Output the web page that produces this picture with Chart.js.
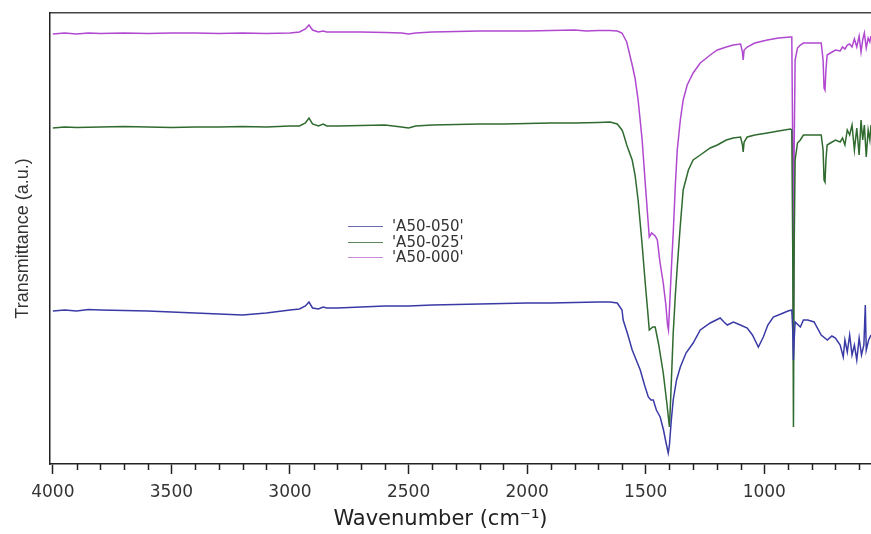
<!DOCTYPE html>
<html>
<head>
<meta charset="utf-8">
<script src="https://cdn.jsdelivr.net/npm/chart.js@4.4.1/dist/chart.umd.min.js"></script>
<style>
  html, body { margin: 0; padding: 0; background: #fff; }
  #wrap { position: relative; width: 871px; height: 534px; }
  #legend { position: absolute; left: 348px; top: 219px; font-family: "DejaVu Sans", sans-serif; font-size: 15px; color: #333; }
  .row { height: 15.5px; line-height: 15.5px; white-space: nowrap; display: flex; align-items: center; }
  .swatch { display: inline-block; width: 35px; height: 0; border-top: 1.5px solid; margin-right: 9px; }
</style>
</head>
<body>
<div id="wrap">
  <canvas id="c" width="871" height="534"></canvas>
  <div id="legend"></div>
</div>
<script>
// ---- Data (transmittance in arbitrary units) ----
const seriesNames = ["'A50-050'", "'A50-025'", "'A50-000'"];
const seriesColors = ['#3a3aa6', '#2f6a2f', '#b048d0'];
const legendColors = ['#6a6ab0', '#5a865a', '#c98ad8'];
const majorTicks = [4000, 3500, 3000, 2500, 2000, 1500, 1000];

const wn050 = [4000,3950,3900,3850,3800,3700,3600,3500,3400,3300,3200,3100,3000,2960,2935,2920,2905,2880,2860,2845,2800,2700,2600,2500,2400,2300,2200,2100,2000,1900,1800,1700,1650,1620,1600,1595,1575,1557,1540,1523,1505,1489,1478,1468,1455,1439,1425,1415,1405,1400,1392,1384,1370,1354,1330,1300,1270,1228,1186,1170,1156,1130,1101,1072,1050,1025,1004,985,962,930,900,884,880,877,874,870,848,835,817,790,760,734,715,700,680,667,660,650,640,630,620,610,600,590,580,574,570,560,550];
const t050  = [153,154,153,154.5,154,153.5,153,152,151,150,149,151,154,155,158,162,156,155,157,156,156,157,158,158,159,159.5,160,160.5,161,161,161.5,162,162,161,154,144,129,114,104,94,79,67,64,64,54,47,34,22,11,19,44,64,84,97,111,121,134,141,146,142,139,142,139,136,129,117,127,139,147,150,153,154,134,104,124,142,137,144,144,142,129,124,128,126,119,107,124,112,129,109,119,104,126,109,119,159,114,124,129];

const wn025 = [4000,3950,3900,3800,3700,3600,3500,3400,3300,3200,3100,3000,2960,2935,2920,2905,2880,2860,2845,2800,2700,2600,2530,2500,2470,2400,2300,2200,2100,2000,1900,1800,1700,1650,1620,1600,1595,1580,1557,1545,1532,1515,1502,1492,1485,1470,1460,1445,1426,1410,1400,1395,1384,1375,1367,1354,1342,1320,1300,1270,1228,1198,1160,1131,1100,1092,1089,1085,1072,1040,987,940,890,884,880,877,874,870,860,848,835,800,760,752,748,744,740,735,721,700,680,670,660,650,640,630,620,610,600,592,585,578,570,562,555,550];
const t025  = [336,337,336.5,337,337.5,337,336.5,337,337,337.5,337,338,338,341,346,340,338,340,338,338,338.5,339,337,336,338,339,339.5,340,340,340.5,341,341,341.5,342,340,334,331,319,304,289,264,219,181,154,134,137,137,119,91,59,37,64,131,169,197,239,274,294,304,309,316,319,324,326,327,319,312,322,327,329,331,333,335,334,214,37,214,304,321,324,329,329,329,314,284,282,304,319,321,324,322,326,319,334,329,339,314,336,309,344,324,339,307,334,324,339];

const wn000 = [4000,3950,3900,3850,3800,3700,3600,3500,3400,3300,3200,3100,3000,2960,2935,2920,2905,2880,2860,2845,2800,2700,2600,2530,2500,2470,2400,2300,2200,2100,2000,1900,1800,1750,1700,1650,1620,1600,1580,1557,1545,1532,1515,1502,1492,1485,1475,1460,1451,1440,1426,1415,1408,1404,1398,1390,1384,1375,1367,1354,1342,1325,1300,1270,1228,1198,1160,1131,1100,1092,1089,1085,1072,1040,987,940,890,884,880,877,874,870,860,848,835,800,760,752,748,744,740,735,721,700,680,670,660,650,640,630,620,610,600,592,585,578,570,562,555,550];
const t000  = [430,431,430,431,430.5,431,430.5,431,431,430.5,431,430.5,431,432,435,439,434,432,433,432,432,432,431.5,431,430,431,432,432.5,433,433,433,433.5,434,433,433.5,433.5,433,431,422,399,386,364,324,281,249,227,231,228,224,202,181,159,139,134,164,204,231,279,314,344,364,379,391,401,409,414,417,419,420,412,404,414,417,421,424,426,427,427,314,139,314,404,416,419,421,421,421,404,376,374,394,409,411,414,413,417,415,419,420,417,425,417,428,412,424,431,416,426,422,428];

const toPts = (xs, ys) => xs.map((x, i) => ({ x: x, y: ys[i] }));

// legend (HTML text)
const legendEl = document.getElementById('legend');
seriesNames.forEach((n, i) => {
  const r = document.createElement('div');
  r.className = 'row';
  r.innerHTML = '<span class="swatch" style="border-color:' + legendColors[i] + '"></span><span>' + n + '</span>';
  legendEl.appendChild(r);
});

const minorTicks = {
  id: 'minorTicks',
  afterDraw(chart) {
    const sx = chart.scales.x;
    const ctx = chart.ctx;
    const y0 = chart.chartArea.bottom;
    ctx.save();
    ctx.strokeStyle = '#222';
    ctx.lineWidth = 1.5;
    for (let v = 600; v < 4000; v += 100) {
      if (v % 500 === 0) continue;
      const px = Math.round(sx.getPixelForValue(v)) + 0.5;
      ctx.beginPath();
      ctx.moveTo(px, y0);
      ctx.lineTo(px, y0 + 6);
      ctx.stroke();
    }
    ctx.restore();
  }
};

const ds = (label, pts, color) => ({
  label: label, data: pts, borderColor: color, backgroundColor: color,
  borderWidth: 1.5, pointRadius: 0, tension: 0, fill: false
});

new Chart(document.getElementById('c'), {
  type: 'line',
  data: {
    datasets: [
      ds(seriesNames[0], toPts(wn050, t050), seriesColors[0]),
      ds(seriesNames[1], toPts(wn025, t025), seriesColors[1]),
      ds(seriesNames[2], toPts(wn000, t000), seriesColors[2])
    ]
  },
  options: {
    responsive: false,
    animation: false,
    devicePixelRatio: 1,
    layout: { padding: 0 },
    plugins: { legend: { display: false }, tooltip: { enabled: false } },
    scales: {
      x: {
        type: 'linear', position: 'bottom', reverse: true, min: 550, max: 4012,
        afterBuildTicks: s => { s.ticks = majorTicks.map(v => ({ value: v })); },
        afterFit: s => { s.height = 70; },
        ticks: { font: { family: 'DejaVu Sans', size: 17 }, color: '#333', padding: 8, maxRotation: 0, autoSkip: false, callback: v => String(v) },
        grid: { drawOnChartArea: false, tickLength: 10, tickColor: '#222', tickWidth: 1.5 },
        border: { color: '#222', width: 1.5 },
        title: { display: true, text: 'Wavenumber (cm\u207B\u00B9)      ', font: { family: 'DejaVu Sans', size: 21 }, color: '#222', padding: { top: 0, bottom: 2 } }
      },
      xTop: {
        type: 'linear', position: 'top', reverse: true, min: 550, max: 4012,
        afterFit: s => { s.height = 13; },
        ticks: { display: false },
        grid: { drawOnChartArea: false, drawTicks: false },
        border: { color: '#444', width: 1.5 }
      },
      y: {
        type: 'linear', position: 'left', min: 0, max: 451,
        afterFit: s => { s.width = 50; },
        ticks: { display: false },
        grid: { drawOnChartArea: false, drawTicks: false },
        border: { color: '#222', width: 1.5 },
        title: { display: true, text: 'Transmittance (a.u.)', font: { family: 'Liberation Sans', size: 18 }, color: '#333', padding: { top: 12, bottom: 0 } }
      }
    }
  },
  plugins: [minorTicks]
});
</script>
</body>
</html>
